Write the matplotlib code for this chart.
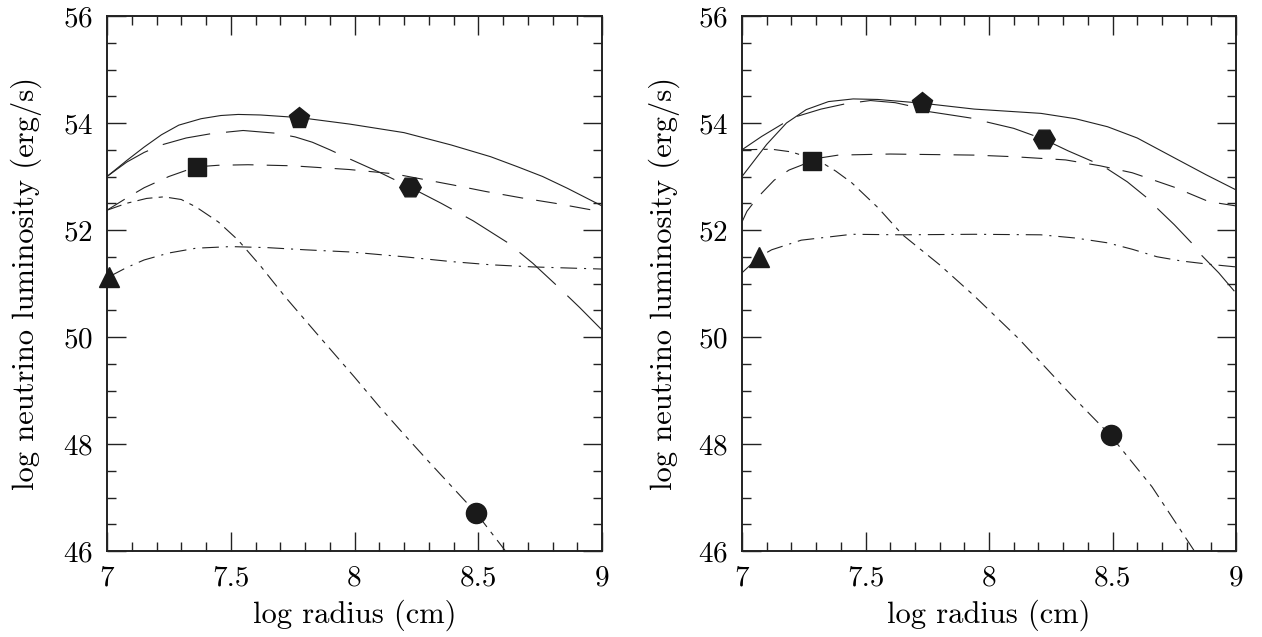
import matplotlib.pyplot as plt
from matplotlib.ticker import MultipleLocator

plt.rcParams['font.family'] = ['cmr10', 'DejaVu Serif']
plt.rcParams['axes.formatter.use_mathtext'] = True
plt.rcParams['axes.unicode_minus'] = False
plt.rcParams['lines.scale_dashes'] = False

# ---- left panel curves (log radius, log luminosity)
L_solid_x = [7.0, 7.08, 7.15, 7.22, 7.29, 7.38, 7.46, 7.53, 7.62, 7.78, 7.98, 8.2, 8.39, 8.55, 8.66, 8.76, 8.86, 9.0]
L_solid_y = [53.0, 53.3, 53.55, 53.78, 53.96, 54.08, 54.14, 54.16, 54.15, 54.1, 53.98, 53.82, 53.59, 53.37, 53.18, 53.0, 52.78, 52.45]

L_ldash_x = [7.0, 7.08, 7.15, 7.22, 7.32, 7.42, 7.55, 7.68, 7.76, 7.83, 7.9, 7.97, 8.1, 8.22, 8.35, 8.48, 8.62, 8.72, 8.82, 8.91, 9.0]
L_ldash_y = [53.0, 53.27, 53.45, 53.59, 53.72, 53.8, 53.86, 53.81, 53.74, 53.64, 53.5, 53.35, 53.08, 52.81, 52.5, 52.17, 51.76, 51.38, 50.95, 50.55, 50.13]

L_dash_x = [7.0, 7.08, 7.15, 7.25, 7.36, 7.45, 7.57, 7.75, 7.98, 8.16, 8.4, 8.53, 8.675, 8.81, 9.0]
L_dash_y = [52.37, 52.6, 52.79, 53.0, 53.18, 53.21, 53.22, 53.2, 53.13, 53.05, 52.84, 52.72, 52.6, 52.5, 52.34]

L_ddot_x = [7.0, 7.08, 7.16, 7.23, 7.3, 7.36, 7.45, 7.53, 7.62, 7.72, 7.85, 8.0, 8.1, 8.2, 8.3, 8.4, 8.49, 8.56, 8.61, 8.65]
L_ddot_y = [52.37, 52.5, 52.59, 52.62, 52.57, 52.43, 52.15, 51.81, 51.33, 50.75, 50.05, 49.25, 48.7, 48.18, 47.67, 47.17, 46.72, 46.3, 46.0, 45.75]

L_dot_x = [7.01, 7.08, 7.15, 7.25, 7.36, 7.5, 7.65, 7.8, 7.98, 8.2, 8.39, 8.55, 8.72, 9.0]
L_dot_y = [51.13, 51.3, 51.44, 51.57, 51.66, 51.69, 51.67, 51.63, 51.59, 51.5, 51.41, 51.35, 51.31, 51.27]

# ---- right panel curves
R_solid_x = [7.0, 7.05, 7.1, 7.18, 7.26, 7.35, 7.45, 7.55, 7.73, 7.94, 8.21, 8.35, 8.48, 8.6, 8.75, 8.88, 9.0]
R_solid_y = [53.0, 53.3, 53.6, 54.0, 54.25, 54.4, 54.45, 54.44, 54.37, 54.26, 54.18, 54.08, 53.93, 53.72, 53.35, 53.03, 52.75]

R_ldash_x = [7.0, 7.08, 7.17, 7.22, 7.32, 7.42, 7.52, 7.62, 7.7, 7.76, 7.86, 7.93, 7.99, 8.1, 8.22, 8.32, 8.42, 8.48, 8.56, 8.64, 8.68, 8.75, 8.82, 8.86, 8.93, 9.0]
R_ldash_y = [53.5, 53.75, 54.0, 54.12, 54.26, 54.36, 54.42, 54.38, 54.3, 54.21, 54.14, 54.09, 54.02, 53.9, 53.7, 53.48, 53.28, 53.14, 52.9, 52.6, 52.41, 52.1, 51.76, 51.53, 51.2, 50.82]

R_dash_x = [7.0, 7.02, 7.04, 7.08, 7.13, 7.19, 7.24, 7.28, 7.32, 7.39, 7.6, 7.94, 8.1, 8.31, 8.45, 8.58, 8.75, 8.89, 9.0]
R_dash_y = [52.15, 52.35, 52.47, 52.69, 52.93, 53.12, 53.21, 53.29, 53.35, 53.4, 53.42, 53.4, 53.37, 53.31, 53.2, 53.07, 52.8, 52.53, 52.45]

R_ddot_x = [7.0, 7.12, 7.2, 7.26, 7.32, 7.38, 7.445, 7.55, 7.65, 7.8, 7.94, 8.12, 8.34, 8.49, 8.66, 8.82, 8.86]
R_ddot_y = [53.5, 53.51, 53.46, 53.37, 53.27, 53.1, 52.88, 52.42, 51.91, 51.35, 50.77, 49.97, 48.88, 48.17, 47.2, 46.08, 45.8]

R_dot_x = [7.0, 7.07, 7.12, 7.24, 7.445, 7.65, 7.94, 8.21, 8.35, 8.48, 8.58, 8.68, 8.78, 8.89, 9.0]
R_dot_y = [51.2, 51.5, 51.63, 51.81, 51.92, 51.91, 51.92, 51.91, 51.85, 51.76, 51.64, 51.5, 51.42, 51.36, 51.31]

# ---- marker points: triangle, square, pentagon, hexagon, circle
L_mark_x = [7.01, 7.364, 7.776, 8.224, 8.49]
L_mark_y = [51.13, 53.18, 54.10, 52.81, 46.71]
R_mark_x = [7.068, 7.283, 7.728, 8.223, 8.493]
R_mark_y = [51.50, 53.29, 54.37, 53.70, 48.17]
mark_shapes = ['^', 's', 'p', 'H', 'o']
mark_sizes = [15, 13.5, 15.5, 15.5, 14.5]

styles = {
    'solid': (0, ()),
    'ldash': (0, (35, 11.5)),
    'dash': (0, (15, 9.5)),
    'ddot': (0, (11, 4.5, 3, 4.5)),
    'dot': (0, (12, 5, 1.5, 5)),
}
ink = '#222222'

fig = plt.figure(figsize=(12.62, 6.37), dpi=100)
ax1 = fig.add_axes([107 / 1262, 86 / 637, 495 / 1262, 535 / 637])
ax2 = fig.add_axes([742 / 1262, 86 / 637, 494 / 1262, 535 / 637])

panels = [
    (ax1, [(L_solid_x, L_solid_y, 'solid'), (L_ldash_x, L_ldash_y, 'ldash'),
           (L_dash_x, L_dash_y, 'dash'), (L_ddot_x, L_ddot_y, 'ddot'),
           (L_dot_x, L_dot_y, 'dot')], L_mark_x, L_mark_y, -0.131),
    (ax2, [(R_solid_x, R_solid_y, 'solid'), (R_ldash_x, R_ldash_y, 'ldash'),
           (R_dash_x, R_dash_y, 'dash'), (R_ddot_x, R_ddot_y, 'ddot'),
           (R_dot_x, R_dot_y, 'dot')], R_mark_x, R_mark_y, -0.1255),
]

for ax, curves, mx, my, ylx in panels:
    for xs, ys, st in curves:
        ax.plot(xs, ys, color=ink, lw=0.8, linestyle=styles[st])
    for x, y, m, s in zip(mx, my, mark_shapes, mark_sizes):
        ax.plot([x], [y], marker=m, ms=s, color='#1a1a1a', mec='#1a1a1a',
                clip_on=False, zorder=5)
    ax.set_xlim(7, 9)
    ax.set_ylim(46, 56)
    ax.xaxis.set_major_locator(MultipleLocator(0.5))
    ax.xaxis.set_minor_locator(MultipleLocator(0.1))
    ax.yaxis.set_major_locator(MultipleLocator(2))
    ax.yaxis.set_minor_locator(MultipleLocator(0.5))
    ax.set_xticks([7, 7.5, 8, 8.5, 9])
    ax.set_xticklabels(['7', '7.5', '8', '8.5', '9'])
    ax.tick_params(which='both', direction='in', top=True, right=True,
                   labelsize=21, width=1.0, color=ink)
    ax.tick_params(which='major', length=13.5, pad=10)
    ax.tick_params(which='minor', length=6.5)
    for sp in ax.spines.values():
        sp.set_linewidth(1.4)
        sp.set_color(ink)
    ax.set_xlabel('log radius (cm)', fontsize=22)
    ax.set_ylabel('log neutrino luminosity (erg/s)', fontsize=22)
    ax.xaxis.set_label_coords(0.5, -0.09)
    ax.yaxis.set_label_coords(ylx, 0.5)

fig.savefig('out.png', dpi=100)
